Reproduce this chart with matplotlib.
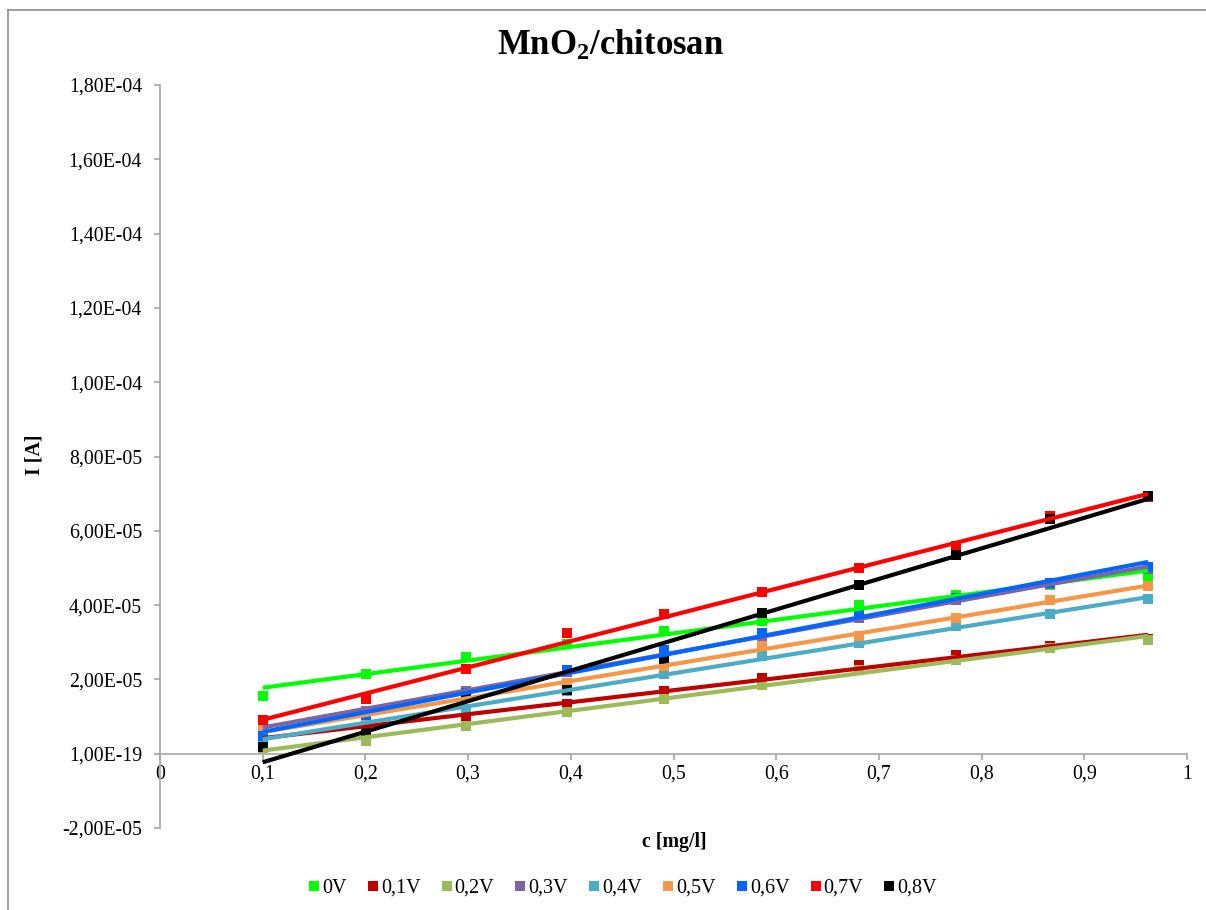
import numpy as np
import matplotlib
matplotlib.use("Agg")
import matplotlib.pyplot as plt
from matplotlib.lines import Line2D

plt.rcParams['font.family'] = ['Liberation Serif', 'DejaVu Serif']
plt.rcParams['mathtext.fontset'] = 'custom'
plt.rcParams['mathtext.rm'] = 'Liberation Serif:bold'
plt.rcParams['mathtext.it'] = 'Liberation Serif:bold'
plt.rcParams['mathtext.bf'] = 'Liberation Serif:bold'

# concentration c [mg/l]
conc = [0.100, 0.201, 0.298, 0.396, 0.491, 0.586, 0.681, 0.775, 0.867, 0.962]

# current I [A] at each potential (units of 1e-5 A)
i_0V  = [1.54, 2.15, 2.60, 2.94, 3.31, 3.58, 4.00, 4.27, 4.55, 4.76]
i_01V = [0.45, 0.72, 0.99, 1.33, 1.68, 2.04, 2.38, 2.66, 2.91, 3.08]
i_02V = [0.16, 0.35, 0.75, 1.12, 1.48, 1.86, 2.26, 2.53, 2.85, 3.07]
i_03V = [0.73, 1.15, 1.68, 2.20, 2.70, 3.18, 3.65, 4.14, 4.57, 4.97]
i_04V = [0.38, 0.87, 1.20, 1.68, 2.14, 2.62, 2.97, 3.43, 3.77, 4.17]
i_05V = [0.65, 0.97, 1.50, 1.90, 2.36, 2.89, 3.18, 3.64, 4.14, 4.52]
i_06V = [0.47, 1.05, 1.64, 2.24, 2.78, 3.26, 3.74, 4.18, 4.60, 5.03]
i_07V = [0.90, 1.46, 2.28, 3.24, 3.75, 4.34, 5.00, 5.60, 6.40, 6.91]
i_08V = [0.18, 0.60, 1.53, 1.71, 2.56, 3.80, 4.53, 5.36, 6.32, 6.94]

labels = ['0V', '0,1V', '0,2V', '0,3V', '0,4V', '0,5V', '0,6V', '0,7V', '0,8V']
colors = ['#00FF00', '#C00000', '#9BBB59', '#8064A2', '#4BACC6',
          '#F79646', '#0066FF', '#FF0000', '#000000']
series = [i_0V, i_01V, i_02V, i_03V, i_04V, i_05V, i_06V, i_07V, i_08V]

yticks = [-2e-5, 0, 2e-5, 4e-5, 6e-5, 8e-5, 1e-4, 1.2e-4, 1.4e-4, 1.6e-4, 1.8e-4]
ytick_labels = ['-2,00E-05', '1,00E-19', '2,00E-05', '4,00E-05', '6,00E-05',
                '8,00E-05', '1,00E-04', '1,20E-04', '1,40E-04', '1,60E-04', '1,80E-04']
xticks = [0, 0.1, 0.2, 0.3, 0.4, 0.5, 0.6, 0.7, 0.8, 0.9, 1.0]
xtick_labels = ['0', '0,1', '0,2', '0,3', '0,4', '0,5', '0,6', '0,7', '0,8', '0,9', '1']

W, H = 1206, 910
fig = plt.figure(figsize=(W / 100, H / 100), dpi=100)
ax = fig.add_axes([160 / W, (H - 828) / H, (1187 - 160) / W, (828 - 85) / H])

x = np.array(conc)
# markers first, linear trendlines on top
for ys, c in zip(series, colors):
    ax.plot(x, np.array(ys) * 1e-5, linestyle='none', marker='s',
            markersize=7.2, color=c, markeredgewidth=0, zorder=3)
for ys, c in zip(series, colors):
    k, b = np.polyfit(x, np.array(ys) * 1e-5, 1)
    xx = np.array([x[0], x[-1]])
    ax.plot(xx, k * xx + b, color=c, linewidth=3.0, zorder=4,
            solid_capstyle='butt')

ax.set_xlim(0, 1)
ax.set_ylim(-2e-5, 1.8e-4)
ax.set_xticks(xticks)
ax.set_xticklabels(xtick_labels)
ax.set_yticks(yticks)
ax.set_yticklabels(ytick_labels)

axis_gray = '#A6A6A6'
for side in ['top', 'right']:
    ax.spines[side].set_visible(False)
ax.spines['bottom'].set_position(('data', 0))
for side in ['left', 'bottom']:
    ax.spines[side].set_color(axis_gray)
    ax.spines[side].set_linewidth(1.2)
ax.tick_params(axis='y', direction='out', length=4, width=1.2, color=axis_gray,
               labelsize=14.3, pad=9)
ax.tick_params(axis='x', direction='out', length=4, width=1.2, color=axis_gray,
               labelsize=14.3, pad=4)

ax.set_ylabel('I [A]', fontsize=14.3, fontweight='bold')
ax.yaxis.set_label_coords(-0.112, 0.502)
ax.set_xlabel('c [mg/l]', fontsize=14.3, fontweight='bold')
ax.xaxis.set_label_coords(0.501, -0.005)

fig.text(611 / W, 1 - 46 / H, r'MnO$_2$/chitosan', fontsize=25, fontweight='bold',
         ha='center', va='center')

handles = [Line2D([], [], linestyle='none', marker='s', markersize=7,
                  color=c, markeredgewidth=0) for c in colors]
fig.legend(handles, labels, loc='center', bbox_to_anchor=(623 / W, 22 / H),
           ncol=9, frameon=False, fontsize=14.5, handlelength=0.5,
           handletextpad=0.15, columnspacing=1.05, borderpad=0)

# chart area border
frame_gray = '#8C8C8C'
fig.add_artist(Line2D([8 / W, 8 / W], [0, 1 - 10 / H], color=frame_gray,
                      linewidth=1.2, transform=fig.transFigure))
fig.add_artist(Line2D([8 / W, 1], [1 - 10 / H, 1 - 10 / H], color=frame_gray,
                      linewidth=1.2, transform=fig.transFigure))

fig.savefig('out.png', dpi=100, facecolor='white')
